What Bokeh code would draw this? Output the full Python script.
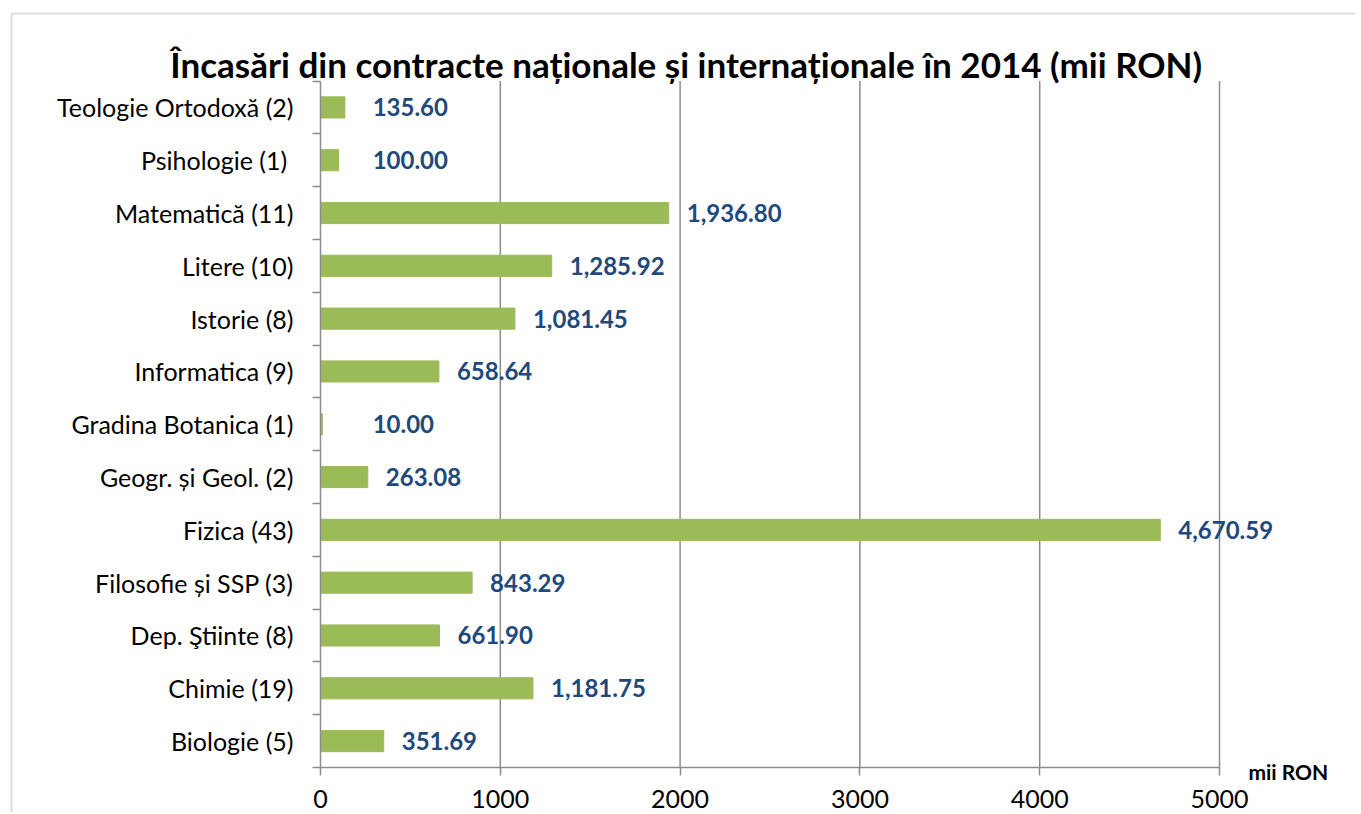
from bokeh.plotting import figure
from bokeh.models import (Range1d, FixedTicker, LinearAxis, Label, BoxAnnotation, ColumnDataSource)
from bokeh.core.properties import value
from bokeh.embed import file_html
from bokeh.resources import INLINE
import numpy as np

# Data (top to bottom as in the chart)
categories = ["Teologie Ortodoxă (2)", "Psihologie  (1)", "Matematică (11)", "Litere (10)",
              "Istorie (8)", "Informatica (9)", "Gradina Botanica (1)", "Geogr. și Geol. (2)",
              "Fizica (43)", "Filosofie și SSP (3)", "Dep. Ştiinte (8)", "Chimie (19)",
              "Biologie (5)"]
values = [135.60, 100.00, 1936.80, 1285.92, 1081.45, 658.64, 10.00, 263.08,
          4670.59, 843.29, 661.90, 1181.75, 351.69]
x_ticks = [0, 1000, 2000, 3000, 4000, 5000]
title_text = "Încasări din contracte naționale și internaționale în 2014 (mii  RON)"
unit_text = "mii RON"

FONT = "Lato"
GRID = "#8c8c8c"

n = len(categories)
cats_bottom_up = categories[::-1]
vals_bottom_up = values[::-1]
ypos = [i + 0.5 for i in range(n)]          # category centres (band scale)
labels = [f"{v:,.2f}" for v in vals_bottom_up]
label_x = list(np.maximum(np.array(vals_bottom_up), 190.0))

src = ColumnDataSource(dict(y=ypos, val=vals_bottom_up, lab=labels, lx=label_x))

# canvas geometry: plot area spans x 0..5000 over 899px starting 320px from the left,
# and 13 bands from 80.5px to 767px from the top
W, H = 1355, 812
LEFT, TOP, PW, PH = 320, 80.5, 899, 686.5
kx = PW / 5000.0
ky = PH / n
x0 = -LEFT / kx
x1 = (W - LEFT) / kx
y1 = n + TOP / ky
y0 = -(H - TOP - PH) / ky

p = figure(width=W, height=H, x_range=Range1d(x0, x1), y_range=Range1d(y0, y1),
           output_backend="svg", toolbar_location=None,
           x_axis_location=None, y_axis_location=None,
           min_border=0, min_border_left=0, min_border_right=0,
           min_border_top=0, min_border_bottom=0)

p.outline_line_color = None
p.background_fill_color = "white"
p.border_fill_color = "white"
p.xgrid.visible = False
p.ygrid.visible = False

# vertical gridlines over the plot area
grid_x = x_ticks[1:]
p.segment(x0=grid_x, y0=[0] * len(grid_x), x1=grid_x, y1=[n] * len(grid_x),
          line_color=GRID, line_width=1.5)

# x axis at y = 0
xa = LinearAxis(ticker=FixedTicker(ticks=x_ticks), fixed_location=0, bounds=(0, 5000))
xa.major_tick_out = 8
xa.major_tick_in = 0
xa.minor_tick_out = 0
xa.minor_tick_in = 0
xa.major_tick_line_color = GRID
xa.major_tick_line_width = 1.5
xa.axis_line_color = GRID
xa.axis_line_width = 1.5
xa.major_label_text_font = FONT
xa.major_label_text_font_size = "25px"
xa.major_label_text_color = "black"
xa.major_label_standoff = 14
p.add_layout(xa, "below")

# y axis at x = 0: labels at band centres, tick marks at band boundaries
ya = LinearAxis(ticker=FixedTicker(ticks=ypos, minor_ticks=list(range(n + 1))),
                fixed_location=0, bounds=(0, n))
ya.major_label_overrides = {y: c for y, c in zip(ypos, cats_bottom_up)}
ya.major_tick_out = 0
ya.major_tick_in = 0
ya.minor_tick_out = 8
ya.minor_tick_in = 0
ya.minor_tick_line_color = GRID
ya.minor_tick_line_width = 1.5
ya.axis_line_color = GRID
ya.axis_line_width = 1.5
ya.major_label_standoff = 19
ya.major_label_text_font = FONT
ya.major_label_text_font_size = "25px"
ya.major_label_text_color = "black"
p.add_layout(ya, "left")

# bars
p.hbar(y="y", left=0, right="val", height=0.4, source=src,
       fill_color="#9BBB59", line_color="#9BBB59")

# value labels
p.text(x="lx", y="y", text="lab", source=src, x_offset=18,
       text_baseline="middle", text_align="left",
       text_font=value(FONT), text_font_style="bold", text_font_size="24px",
       text_color="#1F497D")

# title
p.add_layout(Label(x=x0 + 690 / kx, y=y1 - 63 / ky, text=title_text, text_font=FONT,
                   text_font_style="bold", text_font_size="35px", text_color="black",
                   text_align="center", text_baseline="alphabetic"))

# unit label
p.add_layout(Label(x=5161, y=-0.07, text=unit_text, text_font=FONT, text_font_style="bold",
                   text_font_size="21px", text_color="black", text_baseline="middle",
                   text_align="left"))

# outer chart border (left and top edges visible)
p.add_layout(BoxAnnotation(left=x0 + 11 / kx, right=x1 + 1000, top=y1 - 13 / ky, bottom=y0 - 5,
                           fill_alpha=0, fill_color=None, line_color=GRID, line_width=2))

open("out.html", "w").write(file_html(p, INLINE))
